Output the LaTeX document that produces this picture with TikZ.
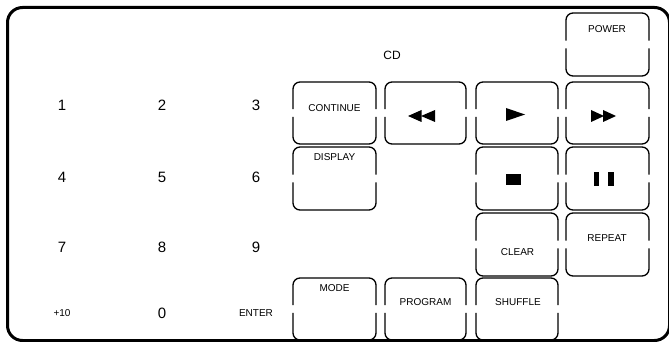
\documentclass[tikz,border=0pt]{standalone}
\usepackage{fontspec}
\setmainfont{Liberation Sans}
\newcommand\keybtn[5]{%
  \node[keyshape, minimum width={#4-#2}, minimum height={#5-#3}] (#1) at ({(#2+#4)/2},{(#3+#5)/2}) {};
  \draw[keyline] ([yshift=3.8pt]#1.west) |- (#1.north) -| ([yshift=3.8pt]#1.east);
  \draw[keyline] ([yshift=-3.8pt]#1.east) |- (#1.south) -| ([yshift=-3.8pt]#1.west);
}
\begin{document}
\begin{tikzpicture}[x=1pt,y=-1pt,
  keyline/.style={line width=1.3pt, rounded corners=7pt},
  keyshape/.style={rectangle, inner sep=0pt, outer sep=0pt},
  lab/.style={font=\fontsize{10}{12}\selectfont, inner sep=0pt},
  digit/.style={font=\fontsize{15}{18}\selectfont, inner sep=0pt},
  sym/.style={fill=black}]
\useasboundingbox (0,0) rectangle (669,342);
\clip (0,0) rectangle (669,342);
\draw[line width=3pt, rounded corners=15pt] (7.5,7.5) rectangle (669.5,340.5);

% keys
\keybtn{pwr}{566}{13}{649}{76}
\keybtn{cont}{293}{82}{376}{144}
\keybtn{rew}{385}{82}{466}{144}
\keybtn{play}{476}{82}{558}{144}
\keybtn{ff}{566}{82}{649}{144}
\keybtn{disp}{293}{147}{376}{210}
\keybtn{stop}{476}{147}{558}{210}
\keybtn{pause}{566}{147}{649}{210}
\keybtn{clr}{476}{213}{558}{276}
\keybtn{rep}{566}{213}{649}{276}
\keybtn{mode}{293}{278}{376}{340}
\keybtn{prog}{385}{278}{466}{340}
\keybtn{shuf}{476}{278}{558}{340}

% key labels
\node[lab] (tpwr) at (607,29) {POWER};
\node[lab] (tcont) at (334.5,108) {CONTINUE};
\node[lab] (tdisp) at (334.5,157) {DISPLAY};
\node[lab] (tclr) at (517.5,252) {CLEAR};
\node[lab] (trep) at (607,238) {REPEAT};
\node[lab] (tmode) at (334.5,288) {MODE};
\node[lab] (tprog) at (425.5,302) {PROGRAM};
\node[lab] (tshuf) at (518,302) {SHUFFLE};

% symbols
\fill[sym] (408,116) -- (421.5,110) -- (421.5,122) -- cycle;
\fill[sym] (421,116) -- (435,110) -- (435,122) -- cycle;
\fill[sym] (525,114.5) -- (506,108) -- (506,121) -- cycle;
\fill[sym] (604,116) -- (591,110) -- (591,122) -- cycle;
\fill[sym] (616,116) -- (603,110) -- (603,122) -- cycle;
\fill[sym] (506,174) rectangle (521,185);
\fill[sym] (593.5,172) rectangle (599,186);
\fill[sym] (608,172) rectangle (613.5,186);

% CD title
\node[font=\fontsize{12}{14}\selectfont, inner sep=0pt] (cd) at (392,55) {CD};

% number pad
\node[digit] (n1) at (62,105) {1};
\node[digit] (n2) at (162,105) {2};
\node[digit] (n3) at (256,105) {3};
\node[digit] (n4) at (62,177) {4};
\node[digit] (n5) at (162,177) {5};
\node[digit] (n6) at (256,177) {6};
\node[digit] (n7) at (62,247) {7};
\node[digit] (n8) at (162,247) {8};
\node[digit] (n9) at (256,247) {9};
\node[lab] (n10) at (62,313) {+10};
\node[digit] (n0) at (162,313) {0};
\node[lab] (nent) at (256,313) {ENTER};
\end{tikzpicture}
\end{document}
